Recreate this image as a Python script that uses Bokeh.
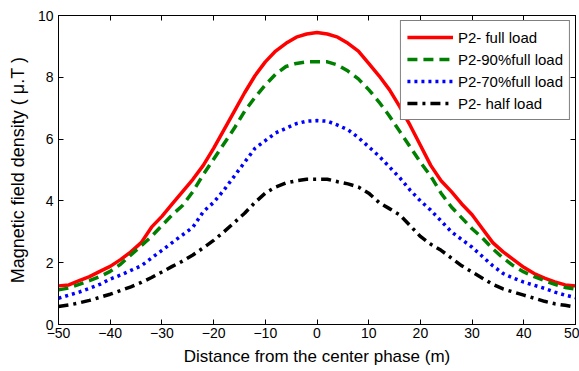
from bokeh.plotting import figure
from bokeh.models import Range1d, LinearAxis, FixedTicker, Legend, LegendItem
from bokeh.embed import file_html
from bokeh.resources import INLINE

x = [-50, -48, -46, -44, -42, -40, -38, -36, -34, -32, -30, -28, -26, -24, -22, -20, -18, -16, -14, -12,
     -10, -8, -6, -4, -2, 0, 2, 4, 6, 8, 10, 12, 14, 16, 18, 20, 22, 24, 26, 28, 30, 32, 34, 36, 38, 40,
     42, 44, 46, 48, 50]

full_load = [1.25, 1.28, 1.42, 1.55, 1.72, 1.88, 2.1, 2.35, 2.65, 3.15, 3.5, 3.9, 4.3, 4.7, 5.15, 5.7,
             6.3, 6.9, 7.5, 8.05, 8.5, 8.85, 9.1, 9.3, 9.4, 9.45, 9.4, 9.3, 9.1, 8.85, 8.45, 8.05, 7.6,
             7.05, 6.45, 5.8, 5.15, 4.65, 4.3, 3.9, 3.55, 3.1, 2.65, 2.35, 2.1, 1.85, 1.65, 1.5, 1.38,
             1.28, 1.25]
load_90 = [1.12, 1.18, 1.3, 1.42, 1.55, 1.72, 1.95, 2.25, 2.55, 2.85, 3.2, 3.55, 3.85, 4.3, 4.85, 5.35,
           5.85, 6.35, 6.9, 7.35, 7.75, 8.1, 8.35, 8.45, 8.5, 8.5, 8.5, 8.4, 8.2, 7.95, 7.6, 7.2, 6.75,
           6.25, 5.75, 5.25, 4.8, 4.25, 3.8, 3.45, 3.1, 2.8, 2.45, 2.15, 1.9, 1.7, 1.55, 1.42, 1.3,
           1.2, 1.15]
load_70 = [0.85, 0.95, 1.05, 1.17, 1.3, 1.47, 1.6, 1.75, 1.9, 2.15, 2.4, 2.65, 2.9, 3.15, 3.65, 3.95,
           4.35, 4.8, 5.25, 5.7, 5.95, 6.2, 6.35, 6.5, 6.58, 6.6, 6.58, 6.45, 6.3, 6.05, 5.75, 5.45, 5.1,
           4.75, 4.35, 4.0, 3.7, 3.35, 3.0, 2.75, 2.5, 2.2, 1.9, 1.65, 1.5, 1.37, 1.27, 1.17, 1.05,
           0.95, 0.87]
half_load = [0.58, 0.63, 0.7, 0.78, 0.88, 0.98, 1.1, 1.22, 1.36, 1.52, 1.7, 1.88, 2.05, 2.25, 2.48, 2.72,
             3.0, 3.3, 3.6, 3.95, 4.25, 4.45, 4.58, 4.65, 4.7, 4.7, 4.7, 4.62, 4.55, 4.45, 4.25, 3.95,
             3.75, 3.55, 3.2, 2.85, 2.6, 2.4, 2.15, 1.9, 1.7, 1.5, 1.3, 1.15, 1.05, 0.95, 0.85, 0.75,
             0.67, 0.62, 0.56]

labels = ["P2- full load", "P2-90%full load", "P2-70%full load", "P2- half load"]
x_ticks = [-50, -40, -30, -20, -10, 0, 10, 20, 30, 40, 50]
y_ticks = [0, 2, 4, 6, 8, 10]

FONT = "Liberation Sans"

p = figure(width=579, height=371, output_backend="svg", toolbar_location=None,
           x_range=Range1d(-50, 50), y_range=Range1d(0, 10),
           min_border_left=58, min_border_right=4, min_border_top=15, min_border_bottom=47)
p.grid.visible = False
p.outline_line_color = "black"
p.outline_line_width = 1
p.background_fill_color = "white"
p.border_fill_color = "white"

def style_axis(ax, show_labels=True):
    ax.axis_line_color = "black"
    ax.major_tick_line_color = "black"
    ax.major_tick_in = 5
    ax.major_tick_out = 0
    ax.minor_tick_line_color = None
    ax.major_label_text_font = FONT
    ax.major_label_text_font_size = "14px" if show_labels else "0px"
    ax.major_label_text_color = "black" if show_labels else None
    ax.axis_label_text_font = FONT
    ax.axis_label_text_font_size = "17px"
    ax.axis_label_text_font_style = "normal"
    ax.axis_label_text_color = "black"

p.xaxis.ticker = FixedTicker(ticks=x_ticks)
p.yaxis.ticker = FixedTicker(ticks=y_ticks)
p.xaxis.axis_label = "Distance from the center phase (m)"
p.yaxis.axis_label = "Magnetic field density ( μ.T )"
style_axis(p.xaxis[0])
style_axis(p.yaxis[0])
p.yaxis.axis_label_text_font_size = "18px"
p.xaxis.major_label_standoff = 3
p.xaxis.axis_label_standoff = 6
p.yaxis.major_label_standoff = 5
p.yaxis.axis_label_standoff = 7

top = LinearAxis(ticker=FixedTicker(ticks=x_ticks))
right = LinearAxis(ticker=FixedTicker(ticks=y_ticks))
style_axis(top, False)
style_axis(right, False)
p.add_layout(top, "above")
p.add_layout(right, "right")

r1 = p.line(x, full_load, line_color="#ff0000", line_width=3.5)
r2 = p.line(x, load_90, line_color="#008000", line_width=3.5, line_dash="10 6")
r3 = p.line(x, load_70, line_color="#0000ff", line_width=3.5, line_dash="3 4")
r4 = p.line(x, half_load, line_color="black", line_width=3.5, line_dash="10 5 3 5")

legend = Legend(items=[LegendItem(label=labels[0], renderers=[r1]),
                       LegendItem(label=labels[1], renderers=[r2]),
                       LegendItem(label=labels[2], renderers=[r3]),
                       LegendItem(label=labels[3], renderers=[r4])],
                location="top_right")
legend.margin = 5
legend.padding = 6
legend.spacing = 2
legend.glyph_width = 46
legend.glyph_height = 20
legend.label_height = 20
legend.label_standoff = 5
legend.label_text_font = FONT
legend.label_text_font_size = "15px"
legend.label_text_color = "black"
legend.border_line_color = "black"
legend.border_line_width = 1
legend.background_fill_alpha = 1.0
p.add_layout(legend, "center")

open("out.html", "w").write(file_html(p, INLINE))
